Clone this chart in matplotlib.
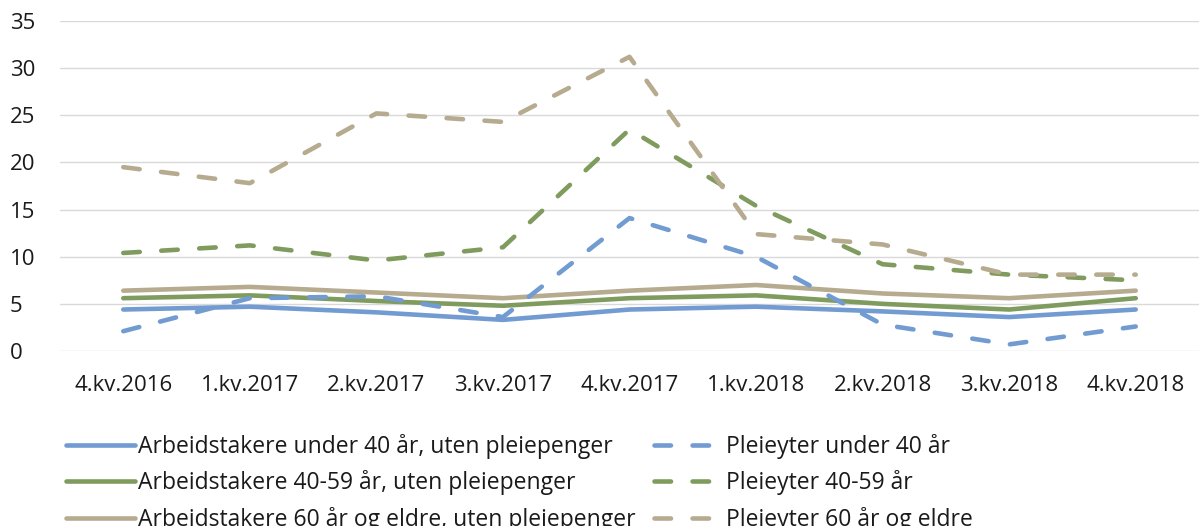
import matplotlib.pyplot as plt

plt.rcParams['font.family'] = ['Open Sans', 'DejaVu Sans']

kvartal = ['4.kv.2016', '1.kv.2017', '2.kv.2017', '3.kv.2017', '4.kv.2017',
           '1.kv.2018', '2.kv.2018', '3.kv.2018', '4.kv.2018']

arb_u40 = [4.4, 4.7, 4.1, 3.3, 4.4, 4.7, 4.2, 3.6, 4.4]
arb_40_59 = [5.6, 5.9, 5.3, 4.8, 5.6, 5.9, 5.0, 4.4, 5.6]
arb_60 = [6.4, 6.8, 6.2, 5.6, 6.4, 7.0, 6.1, 5.6, 6.4]
pl_u40 = [2.1, 5.6, 5.8, 3.6, 14.1, 10.0, 2.8, 0.7, 2.6]
pl_40_59 = [10.4, 11.2, 9.6, 11.0, 23.5, 15.4, 9.2, 8.1, 7.5]
pl_60 = [19.5, 17.8, 25.2, 24.3, 31.2, 12.4, 11.3, 8.1, 8.1]

labels = ['Arbeidstakere under 40 år, uten pleiepenger',
          'Arbeidstakere 40-59 år, uten pleiepenger',
          'Arbeidstakere 60 år og eldre, uten pleiepenger',
          'Pleieyter under 40 år',
          'Pleieyter 40-59 år',
          'Pleieyter 60 år og eldre']

blue = '#729bd2'
green = '#7f9b5e'
beige = '#b6ab8f'

fig = plt.figure(figsize=(11.99, 5.26), dpi=100)
ax = fig.add_axes([60 / 1199, 1 - 351 / 526, 1 - 60 / 1199, 330 / 526])

x = range(len(kvartal))
lw = 3.3
dash = (3.6, 4.7)
series = [(arb_u40, blue, '-'), (arb_40_59, green, '-'), (arb_60, beige, '-'),
          (pl_u40, blue, '--'), (pl_40_59, green, '--'), (pl_60, beige, '--')]
handles = []
for (vals, col, ls), lab in zip(series, labels):
    if ls == '-':
        l, = ax.plot(x, vals, color=col, lw=lw, solid_capstyle='round', label=lab)
    else:
        l, = ax.plot(x, vals, color=col, lw=lw, dashes=dash,
                     dash_capstyle='round', label=lab)
    handles.append(l)

ax.set_xlim(-0.5, 8.5)
ax.set_ylim(0, 35)
ax.set_yticks(range(0, 36, 5))
ax.set_xticks(list(x))
ax.set_xticklabels(kvartal)
ax.grid(axis='y', color='#d9d9d9', lw=1)
ax.set_axisbelow(True)
for s in ax.spines.values():
    s.set_visible(False)
ax.tick_params(length=0, labelsize=16, colors='#1a1a1a')
ax.tick_params(axis='x', pad=17)
ax.tick_params(axis='y', pad=36)
for t in ax.get_yticklabels():
    t.set_horizontalalignment('left')

fig.legend(handles=handles, loc='upper left', bbox_to_anchor=(66 / 1199, 1 - 434 / 526),
           ncol=2, frameon=False, fontsize=16.5, handlelength=3.0,
           handletextpad=0.15, columnspacing=0.8, labelspacing=0.5,
           borderaxespad=0, borderpad=0, labelcolor='#1a1a1a')

fig.savefig('out.png', dpi=100)
